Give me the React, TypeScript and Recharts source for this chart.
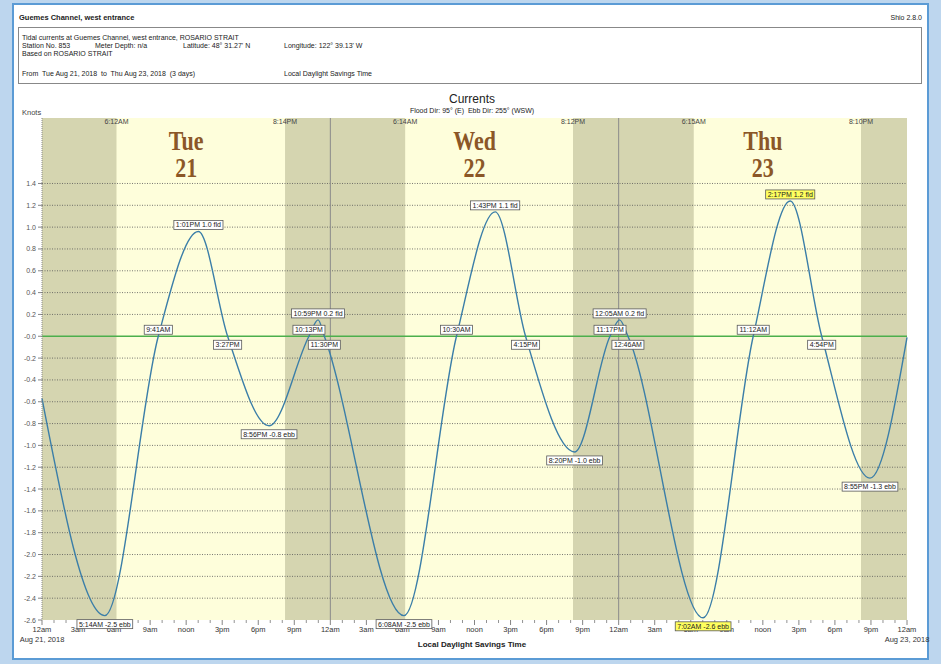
import React from 'react';
import { ComposedChart, Line, Scatter, XAxis, YAxis, ReferenceArea, ReferenceLine } from 'recharts';

const FONT = "'Liberation Sans', Arial, Helvetica, sans-serif";
const SERIF = "'Liberation Serif', 'Times New Roman', serif";

// Current curve (hours since 12am Aug 21, knots)
const curveHours = [0, 5.23, 9.68, 13.02, 15.45, 18.9, 22.22, 22.98, 23.5, 30.13, 34.5, 37.72, 40.25, 44.33, 47.28, 48.08, 48.77, 55.03, 59.2, 62.28, 64.9, 68.92, 72];
const curveKnots = [-0.57, -2.56, 0, 0.96, 0, -0.82, 0, 0.15, 0, -2.56, 0, 1.14, 0, -1.06, 0, 0.15, 0, -2.58, 0, 1.24, 0, -1.3, -0.01];

// Event annotations
const eventHours = [5.23, 9.68, 13.02, 15.45, 18.9, 22.22, 22.98, 23.5, 30.13, 34.5, 37.72, 40.25, 44.33, 47.28, 48.08, 48.77, 55.03, 59.2, 62.28, 64.9, 68.92];
const eventKnots = [-2.56, 0, 0.96, 0, -0.82, 0, 0.15, 0, -2.56, 0, 1.14, 0, -1.06, 0, 0.15, 0, -2.58, 0, 1.24, 0, -1.3];
const eventTexts = ['5:14AM -2.5 ebb', '9:41AM', '1:01PM 1.0 fld', '3:27PM', '8:56PM -0.8 ebb', '10:13PM', '10:59PM 0.2 fld', '11:30PM', '6:08AM -2.5 ebb', '10:30AM', '1:43PM 1.1 fld', '4:15PM', '8:20PM -1.0 ebb', '11:17PM', '12:05AM 0.2 fld', '12:46AM', '7:02AM -2.6 ebb', '11:12AM', '2:17PM 1.2 fld', '4:54PM', '8:55PM -1.3 ebb'];
const eventSides = ['below', 'above', 'above', 'below', 'below', 'above', 'above', 'below', 'below', 'above', 'above', 'below', 'below', 'above', 'above', 'below', 'below', 'above', 'above', 'below', 'below'];
const eventHighlight = [false, false, false, false, false, false, false, false, false, false, false, false, false, false, false, false, true, false, true, false, false];

// Day / night
const nightStarts = [0, 20.23, 44.2, 68.17];
const nightEnds = [6.2, 30.23, 54.25, 72];
const sunHours = [6.2, 20.23, 30.23, 44.2, 54.25, 68.17];
const sunLabels = ['6:12AM', '8:14PM', '6:14AM', '8:12PM', '6:15AM', '8:10PM'];
const dayHours = [12, 36, 60];
const dayNames = ['Tue', 'Wed', 'Thu'];
const dayNumbers = ['21', '22', '23'];
const midnightHours = [24, 48];

// Axes
const xTickHours = [0, 3, 6, 9, 12, 15, 18, 21, 24, 27, 30, 33, 36, 39, 42, 45, 48, 51, 54, 57, 60, 63, 66, 69, 72];
const xTickLabels = ['12am', '3am', '6am', '9am', 'noon', '3pm', '6pm', '9pm', '12am', '3am', '6am', '9am', 'noon', '3pm', '6pm', '9pm', '12am', '3am', '6am', '9am', 'noon', '3pm', '6pm', '9pm', '12am'];
const xDateHours = [0, 72];
const xDateLabels = ['Aug 21, 2018', 'Aug 23, 2018'];
const yTickValues = [1.4, 1.2, 1.0, 0.8, 0.6, 0.4, 0.2, 0, -0.2, -0.4, -0.6, -0.8, -1.0, -1.2, -1.4, -1.6, -1.8, -2.0, -2.2, -2.4, -2.6];
const yTickLabels = ['1.4', '1.2', '1.0', '0.8', '0.6', '0.4', '0.2', '-0.0', '-0.2', '-0.4', '-0.6', '-0.8', '-1.0', '-1.2', '-1.4', '-1.6', '-1.8', '-2.0', '-2.2', '-2.4', '-2.6'];
const gridValues = [1.4, 1.2, 1.0, 0.8, 0.6, 0.4, 0.2, -0.2, -0.4, -0.6, -0.8, -1.0, -1.2, -1.4, -1.6, -1.8, -2.0, -2.2, -2.4];

const allHourTicks = Array.from({ length: 73 }, (_, i) => i);

const curveData = curveHours.map((h, i) => ({ h, v: curveKnots[i] }));
const eventData = eventHours.map((h, i) => ({ h, v: eventKnots[i], text: eventTexts[i], side: eventSides[i], hl: eventHighlight[i] }));
const sunData = sunHours.map((h, i) => ({ h, v: 2.0, text: sunLabels[i] }));
const dayData = dayHours.map((h, i) => ({ h, v: 2.0, name: dayNames[i], num: dayNumbers[i] }));

const CW: Record<string, number> = {
  '0': 0.556, '1': 0.556, '2': 0.556, '3': 0.556, '4': 0.556, '5': 0.556, '6': 0.556, '7': 0.556, '8': 0.556, '9': 0.556,
  ':': 0.278, ' ': 0.278, '.': 0.278, '-': 0.333, A: 0.667, M: 0.833, P: 0.667, e: 0.556, b: 0.556, f: 0.278, l: 0.222, d: 0.556,
};
function textWidth(s: string, size: number) {
  let t = 0;
  for (const c of s) t += CW[c] ?? 0.556;
  return t * size;
}

const EventLabel = (props: any) => {
  const { cx, cy, payload } = props;
  if (cx == null || cy == null) return <g />;
  const fs = 7;
  const w = textWidth(payload.text, fs) + 4;
  const h = 9;
  const top = payload.side === 'above' ? cy - 2 - h : cy + 4;
  return (
    <g>
      <rect x={cx - w / 2} y={top} width={w} height={h} fill={payload.hl ? '#ffff5e' : '#ffffff'} stroke="#5a5a5a" strokeWidth={0.8} />
      <text x={cx} y={top + h - 2} textAnchor="middle" fontSize={fs} fontFamily={FONT} fill="#222">{payload.text}</text>
    </g>
  );
};

const SunLabel = (props: any) => {
  const { cx, cy, payload } = props;
  if (cx == null || cy == null) return <g />;
  return (
    <text x={cx} y={cy + 6} textAnchor="middle" fontSize={7} fontFamily={FONT} fill="#444">{payload.text}</text>
  );
};

const DayLabel = (props: any) => {
  const { cx, cy, payload } = props;
  if (cx == null || cy == null) return <g />;
  return (
    <g fill="#8b5727" fontFamily={SERIF} fontWeight="bold" fontSize={22} textAnchor="middle">
      <text transform={`translate(${cx},${cy + 32}) scale(1,1.2)`} x={0} y={0}>{payload.name}</text>
      <text transform={`translate(${cx},${cy + 59}) scale(1,1.2)`} x={0} y={0}>{payload.num}</text>
    </g>
  );
};

const XTick = (props: any) => {
  const { x, y, payload } = props;
  const v = payload.value;
  const i = xTickHours.indexOf(v);
  if (i < 0) {
    return <line x1={x} x2={x} y1={y} y2={y + 3} stroke="#777" strokeWidth={0.8} />;
  }
  const d = xDateHours.indexOf(v);
  return (
    <g>
      <line x1={x} x2={x} y1={y} y2={y + 5} stroke="#666" strokeWidth={0.8} />
      <text x={x} y={y + 12} textAnchor="middle" fontSize={7.5} fontFamily={FONT} fill="#333">{xTickLabels[i]}</text>
      {d >= 0 && (
        <text x={x} y={y + 22} textAnchor="middle" fontSize={7.5} fontFamily={FONT} fill="#333">{xDateLabels[d]}</text>
      )}
    </g>
  );
};

const YTick = (props: any) => {
  const { x, y, payload } = props;
  const i = yTickValues.indexOf(payload.value);
  return (
    <g>
      <line x1={x - 4} x2={x} y1={y} y2={y} stroke="#666" strokeWidth={0.8} />
      <text x={x - 6} y={y + 2.5} textAnchor="end" fontSize={7} fontFamily={FONT} fill="#555">{i >= 0 ? yTickLabels[i] : ''}</text>
    </g>
  );
};

export default function App() {
  const t = { fontFamily: FONT, fill: '#222' } as const;
  const topZ: any = { zIndex: 3000 };
  return (
    <div style={{ position: 'absolute', left: 0, top: 0, width: 941, height: 664, overflow: 'hidden' }}>
      <svg width={941} height={664} style={{ position: 'absolute', left: 0, top: 0 }}>
        <rect x={0} y={0} width={941} height={664} fill="#bdd6ee" />
        <rect x={13} y={4} width={915} height={655} fill="#ffffff" stroke="#5b9bd5" strokeWidth={2} />
        <text x={19} y={20} fontSize={7.5} fontWeight="bold" {...t}>Guemes Channel, west entrance</text>
        <text x={922} y={20} fontSize={7} textAnchor="end" {...t}>Shio 2.8.0</text>
        <rect x={18.5} y={27.5} width={903} height={56} fill="none" stroke="#888" strokeWidth={1} />
        <text x={22} y={39.5} fontSize={7} {...t}>Tidal currents at Guemes Channel, west entrance, ROSARIO STRAIT</text>
        <text x={22} y={47.5} fontSize={7} {...t}>Station No. 853</text>
        <text x={95} y={47.5} fontSize={7} {...t}>Meter Depth: n/a</text>
        <text x={183} y={47.5} fontSize={7} {...t}>Latitude: 48° 31.27' N</text>
        <text x={284} y={47.5} fontSize={7} {...t}>Longitude: 122° 39.13' W</text>
        <text x={22} y={55.5} fontSize={7} {...t}>Based on ROSARIO STRAIT</text>
        <text x={22} y={75.5} fontSize={7} style={{ whiteSpace: 'pre' }} {...t}>From  Tue Aug 21, 2018  to  Thu Aug 23, 2018  (3 days)</text>
        <text x={284} y={75.5} fontSize={7} {...t}>Local Daylight Savings Time</text>
        <text x={472} y={103} fontSize={12} textAnchor="middle" {...t}>Currents</text>
        <text x={472} y={113} fontSize={7} textAnchor="middle" style={{ whiteSpace: 'pre' }} {...t}>Flood Dir: 95° (E)  Ebb Dir: 255° (WSW)</text>
        <text x={22} y={115} fontSize={7.5} fontFamily={FONT} fill="#444">Knots</text>
        <text x={472} y={647} fontSize={8} fontWeight="bold" textAnchor="middle" {...t}>Local Daylight Savings Time</text>
      </svg>
      <ComposedChart
        width={941}
        height={664}
        margin={{ top: 118, right: 34, bottom: 14, left: 8 }}
        style={{ position: 'absolute', left: 0, top: 0 }}
      >
        <ReferenceArea x1={0} x2={72} y1={-2.6} y2={2.0} fill="#fefedb" fillOpacity={1} stroke="none" ifOverflow="visible" />
        {nightStarts.map((s, i) => (
          <ReferenceArea key={'n' + i} x1={s} x2={nightEnds[i]} y1={-2.6} y2={2.0} fill="#d5d5b0" fillOpacity={1} stroke="none" ifOverflow="visible" />
        ))}
        <XAxis
          type="number"
          dataKey="h"
          domain={[0, 72]}
          ticks={allHourTicks}
          interval={0}
          tick={<XTick />}
          tickSize={0}
          tickMargin={0}
          tickLine={false}
          axisLine={false}
          height={30}
        />
        <YAxis
          type="number"
          domain={[-2.6, 2.0]}
          ticks={yTickValues}
          interval={0}
          tick={<YTick />}
          tickSize={0}
          tickMargin={0}
          tickLine={false}
          axisLine={{ stroke: '#888', strokeDasharray: '1 1' }}
          width={34}
        />
        {gridValues.map((g, i) => (
          <ReferenceLine key={'g' + i} y={g} stroke="#555" strokeDasharray="1 1.5" strokeWidth={0.8} />
        ))}
        {midnightHours.map((m, i) => (
          <ReferenceLine key={'m' + i} x={m} stroke="#8a8a8a" strokeWidth={1} />
        ))}
        <ReferenceLine y={0} stroke="#4caf4c" strokeWidth={1.4} />
        <Line
          data={curveData}
          dataKey="v"
          type="monotone"
          stroke="#3b7ea8"
          strokeWidth={1.4}
          dot={false}
          activeDot={false}
          isAnimationActive={false}
        />
        <Scatter data={sunData} dataKey="v" shape={<SunLabel />} isAnimationActive={false} />
        <Scatter data={dayData} dataKey="v" shape={<DayLabel />} isAnimationActive={false} />
        <Scatter data={eventData} dataKey="v" shape={<EventLabel />} isAnimationActive={false} {...topZ} />
      </ComposedChart>
    </div>
  );
}
